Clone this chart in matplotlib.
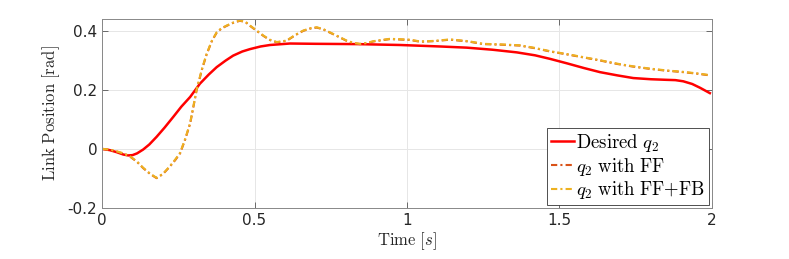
import matplotlib
matplotlib.use("Agg")
import matplotlib.pyplot as plt

plt.rcParams['mathtext.fontset'] = 'cm'
plt.rcParams['font.family'] = ['DejaVu Sans']

t_des = [0.0, 0.025, 0.048, 0.07, 0.086, 0.1, 0.115, 0.135, 0.155, 0.179, 0.205, 0.234,
         0.26, 0.289, 0.321, 0.35, 0.376, 0.405, 0.43, 0.46, 0.485, 0.52, 0.551, 0.616,
         0.7, 0.835, 0.977, 1.108, 1.196, 1.28, 1.36, 1.42, 1.469, 1.524, 1.58, 1.633,
         1.69, 1.742, 1.8, 1.851, 1.88, 1.906, 1.935, 1.961, 1.993]
q_des = [0.0, -0.004, -0.011, -0.019, -0.022, -0.021, -0.015, -0.002, 0.015, 0.041,
         0.072, 0.109, 0.143, 0.176, 0.221, 0.252, 0.277, 0.299, 0.316, 0.330, 0.338,
         0.347, 0.352, 0.357, 0.356, 0.355, 0.352, 0.347, 0.343, 0.336, 0.327, 0.317,
         0.305, 0.290, 0.274, 0.260, 0.249, 0.240, 0.236, 0.234, 0.233, 0.229, 0.220,
         0.207, 0.189]

t_act = [0.0, 0.025, 0.048, 0.07, 0.092, 0.115, 0.135, 0.158, 0.179, 0.2, 0.223, 0.24,
         0.256, 0.272, 0.289, 0.31, 0.328, 0.343, 0.36, 0.376, 0.392, 0.409, 0.43, 0.452,
         0.47, 0.485, 0.507, 0.529, 0.55, 0.573, 0.605, 0.635, 0.66, 0.684, 0.704, 0.725,
         0.747, 0.775, 0.802, 0.825, 0.846, 0.868, 0.89, 0.944, 1.01, 1.043, 1.09, 1.141,
         1.2, 1.25, 1.31, 1.37, 1.42, 1.469, 1.52, 1.578, 1.63, 1.688, 1.74, 1.797, 1.85,
         1.906, 1.95, 1.993]
q_ff = [0.0, -0.003, -0.009, -0.016, -0.026, -0.044, -0.065, -0.085, -0.099, -0.085,
        -0.059, -0.038, -0.015, 0.03, 0.086, 0.198, 0.270, 0.32, 0.365, 0.394, 0.408,
        0.417, 0.427, 0.434, 0.430, 0.417, 0.400, 0.383, 0.369, 0.361, 0.366, 0.386, 0.40,
        0.408, 0.411, 0.405, 0.394, 0.380, 0.366, 0.358, 0.355, 0.358, 0.364, 0.372,
        0.369, 0.363, 0.365, 0.370, 0.364, 0.355, 0.353, 0.35, 0.341, 0.33, 0.321, 0.31,
        0.300, 0.288, 0.279, 0.271, 0.265, 0.26, 0.255, 0.249]
q_fffb = [0.0, -0.002, -0.008, -0.015, -0.025, -0.043, -0.064, -0.084, -0.098, -0.084,
          -0.058, -0.036, -0.013, 0.032, 0.088, 0.2, 0.272, 0.322, 0.366, 0.395, 0.409,
          0.418, 0.428, 0.435, 0.431, 0.418, 0.401, 0.384, 0.370, 0.362, 0.367, 0.387,
          0.401, 0.409, 0.412, 0.406, 0.395, 0.381, 0.367, 0.359, 0.356, 0.359, 0.365,
          0.373, 0.370, 0.364, 0.366, 0.371, 0.365, 0.356, 0.354, 0.351, 0.342, 0.331,
          0.322, 0.311, 0.301, 0.289, 0.280, 0.272, 0.266, 0.261, 0.256, 0.25]

x_ticks = [0, 0.5, 1, 1.5, 2]
x_ticklabels = ['0', '0.5', '1', '1.5', '2']
y_ticks = [-0.2, 0, 0.2, 0.4]
y_ticklabels = ['-0.2', '0', '0.2', '0.4']

fig = plt.figure(figsize=(7.89, 2.59), dpi=100)
ax = fig.add_axes([0.1293, 0.197, 0.7731, 0.7296])

ax.plot(t_des, q_des, color='#FF0000', lw=1.8, label=r'$\mathrm{Desired}\ q_2$')
ax.plot(t_act, q_ff, color='#D95319', lw=1.5, ls=(0, (3, 1.5, 1, 1.5)), label=r'$q_2\ \mathrm{with\ FF}$')
ax.plot(t_act, q_fffb, color='#EDB120', lw=1.5, ls=(0, (3, 1.5, 1, 1.5)), label=r'$q_2\ \mathrm{with\ FF{+}FB}$')

ax.set_xlim(0, 2)
ax.set_ylim(-0.2, 0.44)
ax.set_xticks(x_ticks)
ax.set_xticklabels(x_ticklabels)
ax.set_yticks(y_ticks)
ax.set_yticklabels(y_ticklabels)
ax.tick_params(direction='in', top=True, right=True, labelsize=11, color='#555555',
               length=4, width=0.6, labelcolor='#262626')
ax.grid(True, color='#E6E6E6', lw=0.7)
ax.set_axisbelow(True)
for s in ax.spines.values():
    s.set_color('#888888')
    s.set_linewidth(0.7)

ax.set_xlabel(r'$\mathrm{Time}\ [s]$', fontsize=12, color='#262626', labelpad=2)
ax.set_ylabel(r'$\mathrm{Link\ Position\ [rad]}$', fontsize=12, color='#262626', labelpad=4)

leg = ax.legend(loc='lower right', fontsize=13.5, frameon=True, fancybox=False,
                handlelength=1.2, handletextpad=0.15, borderpad=0.2, labelspacing=0.1,
                borderaxespad=0.15, edgecolor='#333333', framealpha=1)
leg.get_frame().set_linewidth(0.6)

fig.savefig('out.png', dpi=100)
